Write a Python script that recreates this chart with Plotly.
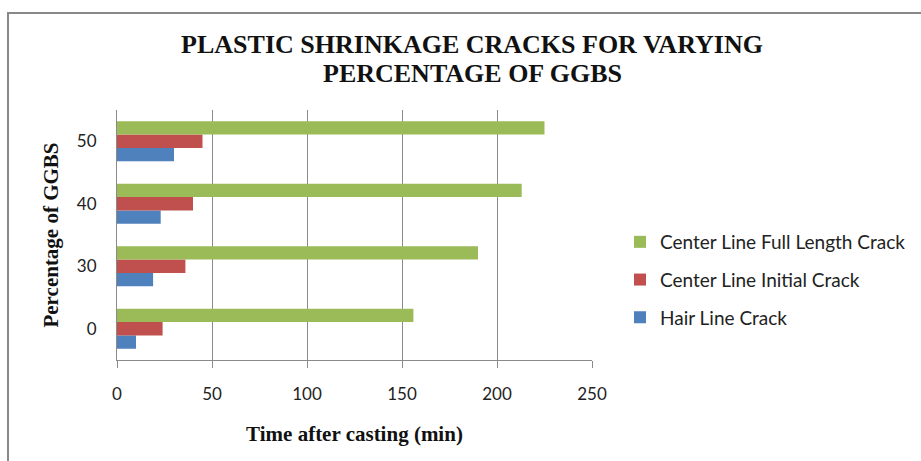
import plotly.graph_objects as go

categories = ["0", "30", "40", "50"]
hair_line = [10, 19, 23, 30]
initial_crack = [24, 36, 40, 45]
full_length = [156, 190, 213, 225]
x_ticks = [0, 50, 100, 150, 200, 250]

series = [
    ("Hair Line Crack", hair_line, "#4F81BD", 3),
    ("Center Line Initial Crack", initial_crack, "#C0504D", 2),
    ("Center Line Full Length Crack", full_length, "#9BBB59", 1),
]

fig = go.Figure()
for i, (name, vals, color, rank) in enumerate(series):
    fig.add_trace(go.Bar(
        y=categories, x=vals, name=name, orientation="h",
        marker=dict(color=color, line=dict(width=0)),
        legendgroup=f"g{rank}", legendrank=rank,
    ))

serif = "Liberation Serif"
sans = "Lato"

fig.update_layout(
    width=921, height=461,
    margin=dict(l=117, r=329, t=110, b=101, autoexpand=False),
    paper_bgcolor="white", plot_bgcolor="white",
    barmode="group", bargap=0.36, bargroupgap=0,
    title=dict(
        text="<b>PLASTIC SHRINKAGE CRACKS FOR VARYING</b>",
        x=472 / 921, xanchor="center", y=1 - 44 / 461, yanchor="middle",
        font=dict(family=serif, size=26, color="#111111"),
    ),
    xaxis=dict(
        range=[0, 250], tickvals=x_ticks, ticktext=[str(v) for v in x_ticks],
        showgrid=True, gridcolor="#8a8a8a", gridwidth=1,
        showline=True, linecolor="#8a8a8a", linewidth=1,
        ticks="outside", ticklen=7, tickcolor="#8a8a8a",
        tickfont=dict(family=sans, size=17, color="#222222"),
        ticklabelstandoff=12,
        zeroline=False,
        title=dict(text="<b>Time after casting (min)</b>",
                   font=dict(family=serif, size=21, color="#111111"), standoff=22),
    ),
    yaxis=dict(
        categoryorder="array", categoryarray=categories,
        showgrid=False, showline=True, linecolor="#8a8a8a", linewidth=1,
        ticks="", tickfont=dict(family=sans, size=17, color="#222222"),
        ticklabelstandoff=16,
        title=dict(text="<b>Percentage of GGBS</b>",
                   font=dict(family=serif, size=21, color="#111111"), standoff=12),
    ),
    legend=dict(
        traceorder="grouped", tracegroupgap=10,
        x=620 / 921, xref="container", xanchor="left",
        y=1 - 280 / 461, yref="container", yanchor="middle",
        font=dict(family=sans, size=19, color="#222222"),
        bgcolor="rgba(0,0,0,0)",
    ),
    showlegend=True,
)

fig.add_annotation(
    text="<b>PERCENTAGE OF GGBS</b>", xref="paper", yref="paper",
    x=(472 - 117) / 475, y=(360 - 73) / 250, xanchor="center", yanchor="middle",
    showarrow=False, font=dict(family=serif, size=26, color="#111111"),
)

# outer chart border (Excel chart area frame)
fig.add_shape(type="rect", xref="paper", yref="paper",
              x0=(8 - 117) / 475, x1=(940 - 117) / 475,
              y0=(360 - 480) / 250, y1=(360 - 13) / 250,
              line=dict(color="#888888", width=2), fillcolor="rgba(0,0,0,0)",
              layer="below")

fig.write_html("out.html")
